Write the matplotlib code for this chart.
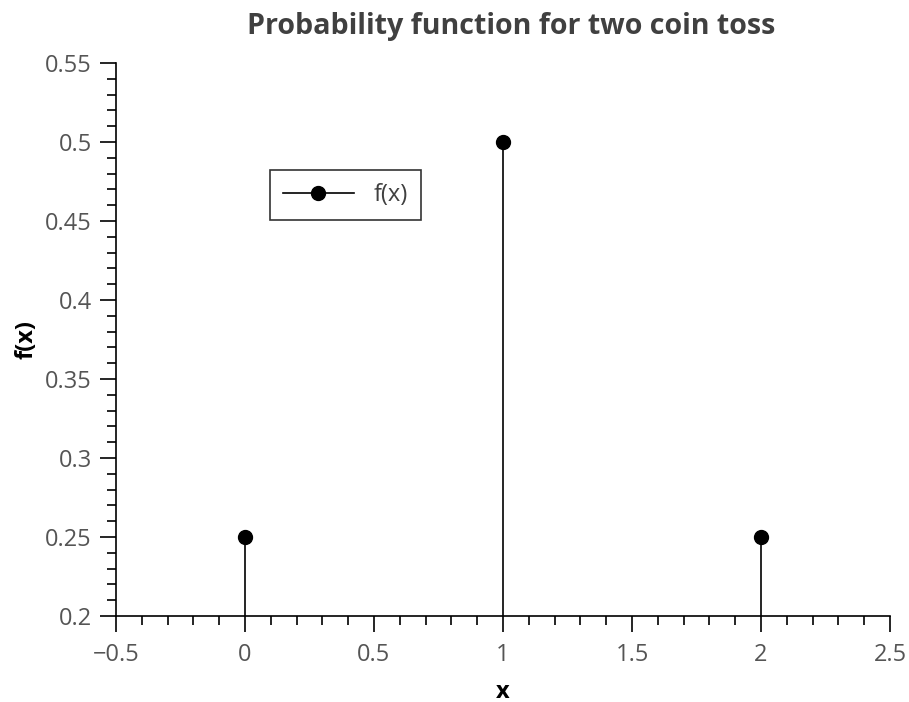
import matplotlib
matplotlib.use("Agg")
import matplotlib.pyplot as plt
from matplotlib.lines import Line2D
from matplotlib.ticker import MultipleLocator, FuncFormatter

x_vals = [0, 1, 2]
f_vals = [0.25, 0.5, 0.25]
title = "Probability function for two coin toss"
xlabel = "x"
ylabel = "f(x)"
legend_label = "f(x)"

plt.rcParams['font.family'] = ['Open Sans', 'DejaVu Sans']

fig = plt.figure(figsize=(9.09, 7.02), dpi=100)
ax = fig.add_axes([116/909, 1 - 616/702, (890-116)/909, (616-63)/702])

ax.vlines(x_vals, 0, f_vals, colors='black', linewidth=1.2)
ax.plot(x_vals, f_vals, 'o', color='black', markersize=10)

ax.set_xlim(-0.5, 2.5)
ax.set_ylim(0.2, 0.55)

for s in ['top', 'right']:
    ax.spines[s].set_visible(False)
for s in ['left', 'bottom']:
    ax.spines[s].set_linewidth(1.2)

ax.xaxis.set_major_locator(MultipleLocator(0.5))
ax.xaxis.set_minor_locator(MultipleLocator(0.1))
ax.yaxis.set_major_locator(MultipleLocator(0.05))
ax.yaxis.set_minor_locator(MultipleLocator(0.01))

def fmt(v, pos):
    s = ('%.2f' % v).rstrip('0').rstrip('.')
    if s in ('-0',):
        s = '0'
    return s.replace('-', '\u2212')
ax.xaxis.set_major_formatter(FuncFormatter(fmt))
ax.yaxis.set_major_formatter(FuncFormatter(fmt))

ax.tick_params(which='major', direction='out', length=11.5, width=1.2,
               labelsize=17, labelcolor='#555555', color='black', pad=6)
ax.tick_params(axis='x', which='major', pad=8)
ax.tick_params(which='minor', direction='out', length=6.5, width=1.2, color='black')

ax.set_title(title, fontsize=20.6, fontweight='bold', color='#404040', pad=21, x=0.51)
ax.set_xlabel(xlabel, fontsize=17, fontweight='bold', labelpad=9)
ax.set_ylabel(ylabel, fontsize=17, fontweight='bold', labelpad=5)

handle = Line2D([], [], color='black', marker='o', markersize=10, linewidth=1.2)
leg = ax.legend([handle], [legend_label], loc='upper left',
                bbox_to_anchor=((270-116)/774, (616-170)/553),
                fontsize=17, frameon=True, fancybox=False, edgecolor='black',
                handlelength=3.0, handletextpad=0.85, borderpad=0.55,
                borderaxespad=0, labelcolor='#404040')
leg.get_frame().set_linewidth(1.2)

fig.savefig('out.png', dpi=100)
